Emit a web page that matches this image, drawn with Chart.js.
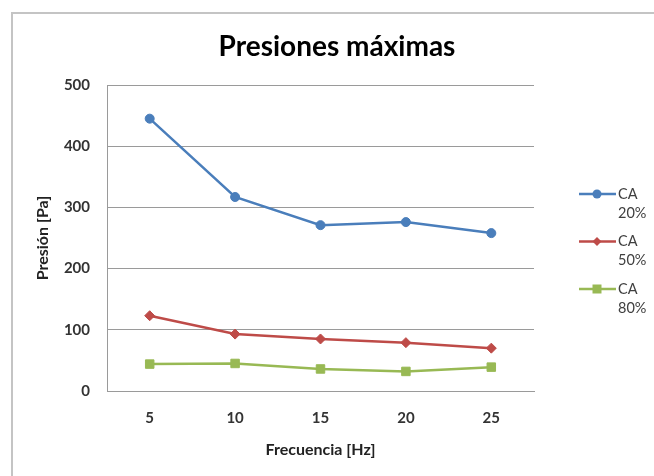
<!DOCTYPE html>
<html>
<head>
<meta charset="utf-8">
<script src="https://cdn.jsdelivr.net/npm/chart.js"></script>
<style>
  html, body { margin: 0; padding: 0; background: #fff; }
  #wrap { width: 654px; height: 476px; }
</style>
</head>
<body>
<div id="wrap"><canvas id="chart"></canvas></div>
<script>
const categories = ['5', '10', '15', '20', '25'];
const seriesNames = ['CA 20%', 'CA 50%', 'CA 80%'];
const ca20 = [445, 317, 271, 276, 258];
const ca50 = [123, 93, 85, 79, 70];
const ca80 = [44, 45, 36, 32, 39];
const yTicks = [0, 100, 200, 300, 400, 500];

const colors = ['#4a7ebb', '#be4b48', '#98b954'];
const styles = ['circle', 'rectRot', 'rect'];
const radii = [4.5, 5, 6];

// grey frame of the Excel chart, runs off the right and bottom edges
const frame = {
    id: 'frame',
    beforeDraw(chart) {
        const ctx = chart.ctx;
        ctx.save();
        ctx.fillStyle = '#fff';
        ctx.fillRect(0, 0, chart.width, chart.height);
        ctx.strokeStyle = '#c4c4c4';
        ctx.lineWidth = 2;
        ctx.strokeRect(12, 13, 800, 600);
        ctx.restore();
    }
};

// legend drawn by hand so the labels can wrap onto two lines
const sideLegend = {
    id: 'sideLegend',
    afterDraw(chart) {
        const ctx = chart.ctx;
        ctx.save();
        chart.data.datasets.forEach((ds, i) => {
            const y = 194 + i * 47.5;
            ctx.strokeStyle = ds.borderColor;
            ctx.lineWidth = 2.5;
            ctx.beginPath();
            ctx.moveTo(579, y);
            ctx.lineTo(616, y);
            ctx.stroke();
            ctx.fillStyle = ds.borderColor;
            const x = 597;
            ctx.beginPath();
            if (ds.pointStyle === 'circle') {
                ctx.arc(x, y, 4.5, 0, Math.PI * 2);
            } else if (ds.pointStyle === 'rectRot') {
                ctx.moveTo(x, y - 4.5);
                ctx.lineTo(x + 4.5, y);
                ctx.lineTo(x, y + 4.5);
                ctx.lineTo(x - 4.5, y);
                ctx.closePath();
            } else {
                ctx.rect(x - 4.5, y - 4.5, 9, 9);
            }
            ctx.fill();
            ctx.fillStyle = '#404040';
            ctx.font = '14.5px Lato';
            ctx.textBaseline = 'middle';
            ctx.textAlign = 'left';
            ds.label.split(' ').forEach((part, j) => {
                ctx.fillText(part, 618, y + j * 19);
            });
        });
        ctx.restore();
    }
};

const datasets = [ca20, ca50, ca80].map((values, i) => ({
    label: seriesNames[i],
    data: values,
    borderColor: colors[i],
    backgroundColor: colors[i],
    borderWidth: 2.5,
    pointStyle: styles[i],
    pointRadius: radii[i],
    pointHoverRadius: radii[i],
    pointBorderWidth: 1,
    tension: 0,
    yAxisID: 'y'
}));

new Chart(document.getElementById('chart'), {
    type: 'line',
    data: { labels: categories, datasets: datasets },
    options: {
        responsive: true,
        maintainAspectRatio: false,
        animation: false,
        layout: { padding: { left: 20, right: 0, top: 0, bottom: 0 } },
        plugins: {
            legend: { display: false },
            tooltip: { enabled: false },
            title: {
                display: true,
                text: 'Presiones máximas',
                color: '#000',
                font: { family: 'Lato', size: 28, weight: 'bold' },
                padding: { top: 30.2, bottom: 21.2 }
            }
        },
        scales: {
            x: {
                offset: true,
                grid: { display: false, drawTicks: false },
                border: { display: true, color: '#9a9a9a', width: 1 },
                ticks: {
                    color: '#333',
                    padding: 18,
                    font: { family: 'Lato', size: 15, weight: 'bold' }
                },
                title: {
                    display: true,
                    text: 'Frecuencia [Hz]',
                    color: '#222',
                    font: { family: 'Lato', size: 16, weight: 'bold' },
                    padding: { top: 0, bottom: 16.4 }
                },
                afterFit: (scale) => { scale.height = 85; }
            },
            y: {
                min: yTicks[0],
                max: yTicks[yTicks.length - 1],
                afterBuildTicks: (scale) => { scale.ticks = yTicks.map(v => ({ value: v })); },
                grid: { color: '#9a9a9a', lineWidth: 1, drawTicks: false },
                border: { display: true, color: '#9a9a9a', width: 1 },
                ticks: {
                    color: '#333',
                    padding: 17,
                    font: { family: 'Lato', size: 15, weight: 'bold' }
                },
                title: {
                    display: true,
                    text: 'Presión [Pa]',
                    color: '#222',
                    font: { family: 'Lato', size: 16, weight: 'bold' },
                    padding: { top: 13.4, bottom: 0 }
                },
                afterFit: (scale) => { scale.width = 87; }
            },
            side: {
                position: 'right',
                display: true,
                grid: { display: false },
                border: { display: false },
                ticks: { display: false },
                afterFit: (scale) => { scale.width = 120; }
            }
        }
    },
    plugins: [frame, sideLegend]
});
</script>
</body>
</html>
